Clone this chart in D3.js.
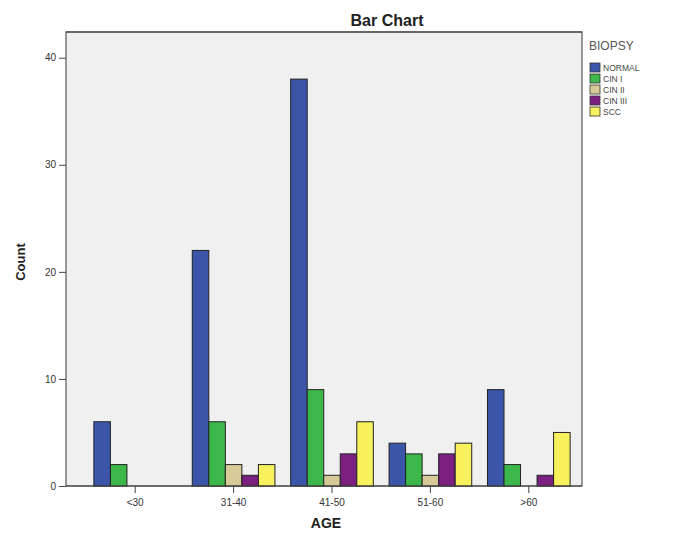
<!DOCTYPE html>
<html><head><meta charset="utf-8">
<script src="https://cdn.jsdelivr.net/npm/d3@7"></script>
<style>body{margin:0;background:#fff;}svg{display:block;font-family:Arial,"Liberation Sans",sans-serif;}</style>
</head><body>
<svg id="c" width="673" height="533"></svg>
<script>
const categories = ["<30","31-40","41-50","51-60",">60"];
const seriesNames = ["NORMAL","CIN I","CIN II","CIN III","SCC"];
const normalVals = [6,22,38,4,9];
const cin1Vals = [2,6,9,3,2];
const cin2Vals = [0,2,1,1,0];
const cin3Vals = [0,1,3,3,1];
const sccVals = [0,2,6,4,5];
const yTicks = [0,10,20,30,40];
const colors = ["#3b55a8","#3cb84a","#d8ca98","#7b2080","#f6f15c"];

const seriesVals = [normalVals,cin1Vals,cin2Vals,cin3Vals,sccVals];
const svg = d3.select("#c");
const L=66,R=582,T=32,B=486;

const y = d3.scaleLinear().domain([0,42.4]).range([B,T]);
const x0 = d3.scaleBand().domain(categories).range([86,578]).paddingInner(0.16).paddingOuter(0.08);
const x1 = d3.scaleBand().domain(seriesNames).range([0,x0.bandwidth()]);

svg.append("rect").attr("x",L).attr("y",T).attr("width",R-L).attr("height",B-T)
  .attr("fill","#f0f0f0").attr("stroke","#555").attr("stroke-width",1.2);
svg.append("line").attr("x1",L).attr("x2",R).attr("y1",T).attr("y2",T).attr("stroke","#666").attr("stroke-width",2);

const g = svg.append("g");
categories.forEach((c,i)=>{
  seriesNames.forEach((s,j)=>{
    const v = seriesVals[j][i];
    if(v<=0) return;
    g.append("rect").attr("x",x0(c)+x1(s)).attr("y",y(v))
      .attr("width",x1.bandwidth()).attr("height",B-y(v))
      .attr("fill",colors[j]).attr("stroke","#222").attr("stroke-width",1);
  });
});

const ya = svg.append("g").attr("transform",`translate(${L},0)`)
  .call(d3.axisLeft(y).tickValues(yTicks).tickSize(7).tickPadding(3));
ya.select(".domain").remove();
ya.selectAll("line").attr("stroke","#444");
ya.selectAll("text").attr("font-size",10).attr("fill","#333");

const xa = svg.append("g").attr("transform",`translate(0,${B})`)
  .call(d3.axisBottom(x0).tickSize(7).tickPadding(6));
xa.select(".domain").remove();
xa.selectAll("line").attr("stroke","#444");
xa.selectAll("text").attr("font-size",10).attr("fill","#333");

svg.append("line").attr("x1",L).attr("x2",R).attr("y1",B).attr("y2",B).attr("stroke","#444").attr("stroke-width",1.2);

svg.append("text").attr("x",387).attr("y",26).attr("text-anchor","middle")
  .attr("font-size",16).attr("font-weight","bold").attr("fill","#222").text("Bar Chart");
svg.append("text").attr("transform","translate(25,262) rotate(-90)").attr("text-anchor","middle")
  .attr("font-size",13).attr("font-weight","bold").attr("fill","#222").text("Count");
svg.append("text").attr("x",326).attr("y",528).attr("text-anchor","middle")
  .attr("font-size",14).attr("font-weight","bold").attr("fill","#222").text("AGE");

const lg = svg.append("g");
lg.append("text").attr("x",589).attr("y",50).attr("font-size",12).attr("fill","#555").text("BIOPSY");
seriesNames.forEach((s,j)=>{
  const yy = 63 + j*11;
  lg.append("rect").attr("x",590).attr("y",yy).attr("width",10).attr("height",9)
    .attr("fill",colors[j]).attr("stroke","#333").attr("stroke-width",0.8);
  lg.append("text").attr("x",603).attr("y",yy+8).attr("font-size",8.5).attr("fill","#444").text(s);
});
</script>
</body></html>
